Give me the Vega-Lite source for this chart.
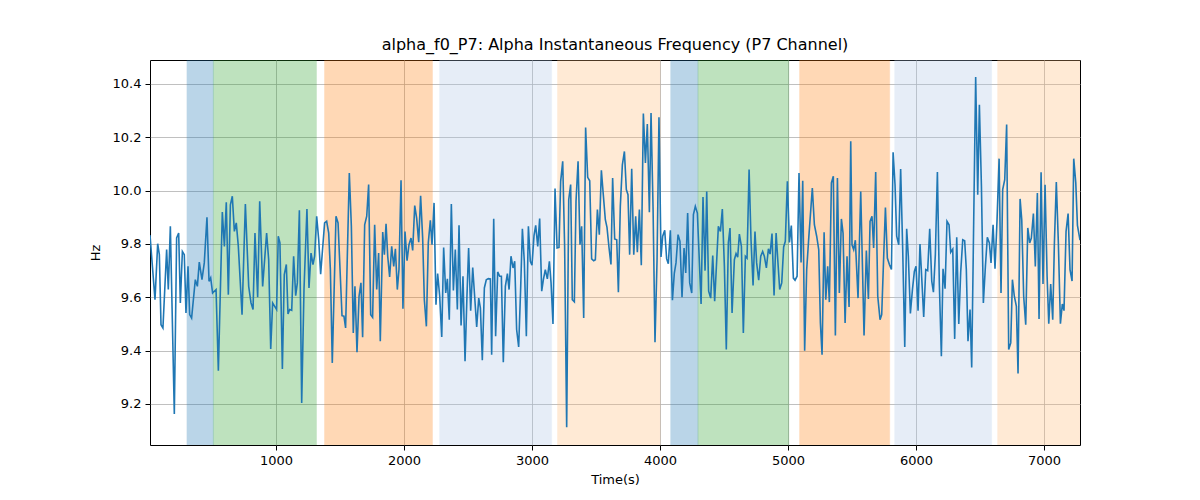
{
  "$schema": "https://vega.github.io/schema/vega-lite/v6.json",
  "width": 930,
  "height": 385,
  "autosize": {"type": "none"},
  "padding": {"left": 150, "top": 60, "right": 120, "bottom": 55},
  "background": "white",
  "config": {
    "font": "DejaVu Sans",
    "view": {"stroke": "black", "strokeWidth": 1},
    "axis": {
      "labelFont": "DejaVu Sans", "labelFontSize": 13, "labelColor": "black",
      "titleFont": "DejaVu Sans", "titleFontSize": 13, "titleFontWeight": "normal", "titleColor": "black",
      "tickColor": "black", "tickSize": 5, "tickWidth": 1, "labelPadding": 4,
      "domain": false, "grid": true, "gridColor": "#b0b0b0", "gridWidth": 0.8, "zindex": 1
    }
  },
  "title": {"text": "alpha_f0_P7: Alpha Instantaneous Frequency (P7 Channel)", "font": "DejaVu Sans", "fontSize": 16, "fontWeight": "normal", "color": "black", "offset": 7},
  "datasets": {
    "bands": [
      {"start": 305, "end": 511, "kind": "A"},
      {"start": 511, "end": 1316, "kind": "B"},
      {"start": 1380, "end": 2222, "kind": "C"},
      {"start": 2279, "end": 3153, "kind": "D"},
      {"start": 3200, "end": 4001, "kind": "E"},
      {"start": 4084, "end": 4297, "kind": "A"},
      {"start": 4297, "end": 5006, "kind": "B"},
      {"start": 5091, "end": 5794, "kind": "C"},
      {"start": 5834, "end": 6590, "kind": "D"},
      {"start": 6638, "end": 7281, "kind": "E"}
    ],
    "series": [
      {"t":16,"hz":9.833},{"t":55,"hz":9.591},{"t":76,"hz":9.801},{"t":89,"hz":9.760},{"t":102,"hz":9.497},{"t":117,"hz":9.485},{"t":146,"hz":9.779},{"t":159,"hz":9.629},{"t":175,"hz":9.866},{"t":206,"hz":9.162},{"t":224,"hz":9.823},{"t":240,"hz":9.841},{"t":253,"hz":9.579},{"t":269,"hz":9.772},{"t":284,"hz":9.760},{"t":297,"hz":9.541},{"t":313,"hz":9.716},{"t":326,"hz":9.535},{"t":341,"hz":9.522},{"t":370,"hz":9.666},{"t":386,"hz":9.641},{"t":401,"hz":9.732},{"t":422,"hz":9.666},{"t":440,"hz":9.729},{"t":461,"hz":9.900},{"t":477,"hz":9.660},{"t":490,"hz":9.673},{"t":505,"hz":9.616},{"t":532,"hz":9.629},{"t":550,"hz":9.325},{"t":581,"hz":9.920},{"t":597,"hz":9.791},{"t":612,"hz":9.956},{"t":628,"hz":9.610},{"t":644,"hz":9.947},{"t":659,"hz":9.979},{"t":675,"hz":9.847},{"t":690,"hz":9.879},{"t":706,"hz":9.791},{"t":735,"hz":9.535},{"t":761,"hz":9.950},{"t":787,"hz":9.641},{"t":805,"hz":9.579},{"t":821,"hz":9.554},{"t":836,"hz":9.841},{"t":857,"hz":9.600},{"t":873,"hz":9.960},{"t":896,"hz":9.641},
      {"t":927,"hz":9.841},{"t":943,"hz":9.741},{"t":959,"hz":9.406},{"t":974,"hz":9.579},{"t":990,"hz":9.566},{"t":1005,"hz":9.554},{"t":1018,"hz":9.829},{"t":1031,"hz":9.804},{"t":1050,"hz":9.331},{"t":1065,"hz":9.685},{"t":1081,"hz":9.723},{"t":1094,"hz":9.537},{"t":1107,"hz":9.554},{"t":1123,"hz":9.551},{"t":1138,"hz":9.754},{"t":1154,"hz":9.606},{"t":1167,"hz":9.654},{"t":1183,"hz":9.926},{"t":1201,"hz":9.204},{"t":1219,"hz":9.629},{"t":1242,"hz":9.931},{"t":1258,"hz":9.635},{"t":1274,"hz":9.766},{"t":1289,"hz":9.723},{"t":1302,"hz":9.754},{"t":1318,"hz":9.904},{"t":1334,"hz":9.816},{"t":1349,"hz":9.687},{"t":1380,"hz":9.879},{"t":1396,"hz":9.885},{"t":1412,"hz":9.841},{"t":1425,"hz":9.704},{"t":1440,"hz":9.354},{"t":1469,"hz":9.904},{"t":1485,"hz":9.879},{"t":1516,"hz":9.531},{"t":1531,"hz":9.529},{"t":1544,"hz":9.485},{"t":1573,"hz":10.066},{"t":1589,"hz":9.866},{"t":1604,"hz":9.466},{"t":1617,"hz":9.641},{"t":1633,"hz":9.394},{"t":1649,"hz":9.604},{"t":1664,"hz":9.654},{"t":1677,"hz":9.450},{"t":1693,"hz":9.872},{"t":1709,"hz":9.904},{"t":1724,"hz":10.023},{"t":1740,"hz":9.535},{"t":1755,"hz":9.525},{"t":1771,"hz":9.872},{"t":1787,"hz":9.629},{"t":1802,"hz":9.766},{"t":1815,"hz":9.435},
      {"t":1834,"hz":9.845},{"t":1847,"hz":9.760},{"t":1860,"hz":9.876},{"t":1873,"hz":9.754},{"t":1888,"hz":9.676},{"t":1904,"hz":9.791},{"t":1920,"hz":9.716},{"t":1933,"hz":9.782},{"t":1948,"hz":9.629},{"t":1961,"hz":9.704},{"t":1977,"hz":10.039},{"t":1992,"hz":9.557},{"t":2008,"hz":9.847},{"t":2024,"hz":9.737},{"t":2039,"hz":9.797},{"t":2055,"hz":9.822},{"t":2068,"hz":9.776},{"t":2084,"hz":9.944},{"t":2099,"hz":9.897},{"t":2115,"hz":9.807},{"t":2130,"hz":9.981},{"t":2146,"hz":9.822},{"t":2159,"hz":9.591},{"t":2175,"hz":9.491},{"t":2190,"hz":9.804},{"t":2206,"hz":9.889},{"t":2219,"hz":9.797},{"t":2235,"hz":9.954},{"t":2250,"hz":9.572},{"t":2263,"hz":9.689},{"t":2279,"hz":9.604},{"t":2295,"hz":9.451},{"t":2310,"hz":9.787},{"t":2326,"hz":9.616},{"t":2339,"hz":9.669},{"t":2354,"hz":9.516},{"t":2370,"hz":9.950},{"t":2386,"hz":9.626},{"t":2401,"hz":9.779},{"t":2417,"hz":9.554},{"t":2430,"hz":9.870},{"t":2446,"hz":9.494},{"t":2461,"hz":9.679},{"t":2477,"hz":9.360},{"t":2492,"hz":9.604},{"t":2505,"hz":9.785},{"t":2521,"hz":9.550},{"t":2537,"hz":9.712},{"t":2552,"hz":9.604},{"t":2568,"hz":9.489},{"t":2584,"hz":9.597},{"t":2597,"hz":9.560},{"t":2612,"hz":9.364},{"t":2628,"hz":9.635},{"t":2643,"hz":9.666},{"t":2659,"hz":9.670},{"t":2675,"hz":9.669},{"t":2685,"hz":9.385},{"t":2701,"hz":9.895},{"t":2716,"hz":9.454},{"t":2732,"hz":9.695},{"t":2748,"hz":9.679},
      {"t":2761,"hz":9.679},{"t":2776,"hz":9.356},{"t":2792,"hz":9.641},{"t":2808,"hz":9.689},{"t":2821,"hz":9.629},{"t":2836,"hz":9.754},{"t":2852,"hz":9.710},{"t":2865,"hz":9.735},{"t":2880,"hz":9.479},{"t":2896,"hz":9.414},{"t":2912,"hz":9.641},{"t":2925,"hz":9.857},{"t":2940,"hz":9.735},{"t":2956,"hz":9.454},{"t":2972,"hz":9.866},{"t":2987,"hz":9.735},{"t":3000,"hz":9.720},{"t":3016,"hz":9.832},{"t":3029,"hz":9.870},{"t":3045,"hz":9.791},{"t":3060,"hz":9.895},{"t":3076,"hz":9.623},{"t":3089,"hz":9.666},{"t":3104,"hz":9.704},{"t":3120,"hz":9.669},{"t":3136,"hz":9.735},{"t":3149,"hz":9.654},{"t":3164,"hz":9.500},{"t":3180,"hz":10.008},{"t":3196,"hz":9.785},{"t":3211,"hz":9.787},{"t":3224,"hz":10.035},{"t":3240,"hz":10.110},{"t":3255,"hz":9.791},{"t":3271,"hz":9.113},{"t":3287,"hz":9.966},{"t":3302,"hz":10.023},{"t":3315,"hz":9.591},{"t":3331,"hz":9.583},{"t":3344,"hz":9.960},{"t":3360,"hz":10.110},{"t":3375,"hz":9.797},{"t":3388,"hz":9.866},{"t":3404,"hz":9.522},{"t":3419,"hz":10.237},{"t":3435,"hz":10.050},{"t":3451,"hz":10.037},{"t":3466,"hz":9.744},{"t":3482,"hz":9.737},{"t":3495,"hz":9.741},{"t":3511,"hz":9.929},{"t":3526,"hz":9.835},{"t":3542,"hz":10.076},{"t":3557,"hz":9.985},{"t":3573,"hz":9.891},{"t":3586,"hz":9.862},{"t":3602,"hz":9.785},{"t":3617,"hz":9.723},{"t":3630,"hz":10.047},{"t":3646,"hz":9.819},{"t":3662,"hz":9.816},
      {"t":3675,"hz":9.619},{"t":3690,"hz":9.941},{"t":3706,"hz":10.097},{"t":3722,"hz":10.147},{"t":3737,"hz":10.004},{"t":3750,"hz":9.985},{"t":3763,"hz":9.760},{"t":3779,"hz":10.082},{"t":3795,"hz":9.760},{"t":3810,"hz":9.904},{"t":3823,"hz":9.769},{"t":3839,"hz":9.929},{"t":3854,"hz":9.720},{"t":3870,"hz":10.289},{"t":3886,"hz":10.104},{"t":3901,"hz":10.250},{"t":3917,"hz":9.919},{"t":3930,"hz":10.291},{"t":3946,"hz":9.929},{"t":3961,"hz":9.431},{"t":3977,"hz":9.741},{"t":3992,"hz":10.275},{"t":4008,"hz":9.751},{"t":4021,"hz":9.829},{"t":4037,"hz":9.851},{"t":4052,"hz":9.744},{"t":4065,"hz":9.726},{"t":4081,"hz":9.851},{"t":4097,"hz":9.589},{"t":4112,"hz":9.691},{"t":4125,"hz":9.729},{"t":4141,"hz":9.835},{"t":4156,"hz":9.810},{"t":4172,"hz":9.600},{"t":4188,"hz":9.785},{"t":4201,"hz":9.691},{"t":4216,"hz":9.916},{"t":4232,"hz":9.654},{"t":4248,"hz":9.616},{"t":4261,"hz":9.910},{"t":4276,"hz":9.941},{"t":4292,"hz":9.916},{"t":4308,"hz":9.729},{"t":4321,"hz":9.575},{"t":4336,"hz":9.976},{"t":4352,"hz":9.700},{"t":4365,"hz":9.997},{"t":4380,"hz":9.623},{"t":4396,"hz":9.597},{"t":4412,"hz":9.757},{"t":4427,"hz":9.585},{"t":4440,"hz":9.710},{"t":4456,"hz":9.866},{"t":4472,"hz":9.847},{"t":4487,"hz":9.931},{"t":4503,"hz":9.716},{"t":4518,"hz":9.404},{"t":4534,"hz":9.804},{"t":4547,"hz":9.860},{"t":4563,"hz":9.541},
      {"t":4581,"hz":9.741},{"t":4594,"hz":9.764},{"t":4607,"hz":9.750},{"t":4620,"hz":9.837},{"t":4636,"hz":9.791},{"t":4651,"hz":9.466},{"t":4667,"hz":9.754},{"t":4680,"hz":9.747},{"t":4696,"hz":10.079},{"t":4711,"hz":9.816},{"t":4727,"hz":9.644},{"t":4742,"hz":9.847},{"t":4755,"hz":9.729},{"t":4771,"hz":9.664},{"t":4787,"hz":9.754},{"t":4802,"hz":9.772},{"t":4815,"hz":9.754},{"t":4831,"hz":9.710},{"t":4847,"hz":9.782},{"t":4860,"hz":9.762},{"t":4875,"hz":9.839},{"t":4891,"hz":9.607},{"t":4907,"hz":9.841},{"t":4920,"hz":9.741},{"t":4935,"hz":9.629},{"t":4951,"hz":9.654},{"t":4966,"hz":9.789},{"t":4979,"hz":9.810},{"t":4995,"hz":10.035},{"t":5011,"hz":9.806},{"t":5026,"hz":9.869},{"t":5042,"hz":9.672},{"t":5055,"hz":9.664},{"t":5071,"hz":9.679},{"t":5086,"hz":10.066},{"t":5102,"hz":9.731},{"t":5115,"hz":10.037},{"t":5130,"hz":9.400},{"t":5146,"hz":9.704},{"t":5162,"hz":9.822},{"t":5190,"hz":10.010},{"t":5206,"hz":9.872},{"t":5224,"hz":9.829},{"t":5240,"hz":9.779},{"t":5253,"hz":9.504},{"t":5266,"hz":9.385},{"t":5282,"hz":9.844},{"t":5295,"hz":9.591},{"t":5310,"hz":9.716},{"t":5323,"hz":9.582},{"t":5339,"hz":10.029},{"t":5354,"hz":10.054},{"t":5370,"hz":9.457},{"t":5386,"hz":10.047},{"t":5401,"hz":9.616},{"t":5417,"hz":9.894},{"t":5430,"hz":9.841},{"t":5446,"hz":9.504},{"t":5461,"hz":9.754},{"t":5477,"hz":9.564},{"t":5490,"hz":10.185},
      {"t":5500,"hz":9.797},{"t":5513,"hz":9.779},{"t":5526,"hz":9.814},{"t":5547,"hz":9.597},{"t":5568,"hz":9.997},{"t":5594,"hz":9.457},{"t":5612,"hz":9.775},{"t":5628,"hz":9.594},{"t":5641,"hz":9.885},{"t":5656,"hz":9.904},{"t":5669,"hz":9.785},{"t":5685,"hz":10.070},{"t":5701,"hz":9.604},{"t":5719,"hz":9.516},{"t":5732,"hz":9.535},{"t":5748,"hz":9.760},{"t":5761,"hz":9.937},{"t":5776,"hz":9.747},{"t":5792,"hz":9.723},{"t":5808,"hz":9.704},{"t":5821,"hz":10.144},{"t":5836,"hz":10.023},{"t":5849,"hz":9.829},{"t":5865,"hz":9.797},{"t":5880,"hz":10.081},{"t":5896,"hz":9.779},{"t":5912,"hz":9.414},{"t":5927,"hz":9.857},{"t":5940,"hz":9.754},{"t":5956,"hz":9.539},{"t":5972,"hz":9.629},{"t":5987,"hz":9.697},{"t":6000,"hz":9.716},{"t":6016,"hz":9.550},{"t":6031,"hz":9.800},{"t":6044,"hz":9.679},{"t":6060,"hz":9.526},{"t":6076,"hz":9.704},{"t":6091,"hz":9.700},{"t":6107,"hz":9.857},{"t":6123,"hz":9.660},{"t":6136,"hz":9.619},{"t":6151,"hz":9.760},{"t":6167,"hz":10.070},{"t":6182,"hz":9.654},{"t":6198,"hz":9.379},{"t":6211,"hz":9.707},{"t":6227,"hz":9.632},{"t":6242,"hz":9.885},{"t":6258,"hz":9.872},{"t":6271,"hz":9.769},{"t":6287,"hz":9.781},{"t":6302,"hz":9.444},{"t":6318,"hz":9.825},{"t":6334,"hz":9.500},{"t":6349,"hz":9.694},{"t":6365,"hz":9.816},{"t":6380,"hz":9.812},{"t":6393,"hz":9.704},{"t":6406,"hz":9.435},
      {"t":6422,"hz":9.554},{"t":6435,"hz":9.337},{"t":6466,"hz":10.426},{"t":6482,"hz":9.985},{"t":6495,"hz":10.322},{"t":6511,"hz":10.016},{"t":6526,"hz":9.579},{"t":6542,"hz":9.716},{"t":6557,"hz":9.825},{"t":6573,"hz":9.804},{"t":6586,"hz":9.729},{"t":6602,"hz":9.872},{"t":6617,"hz":9.707},{"t":6633,"hz":9.891},{"t":6649,"hz":10.120},{"t":6664,"hz":9.616},{"t":6677,"hz":10.004},{"t":6693,"hz":10.041},{"t":6708,"hz":10.248},{"t":6724,"hz":9.404},{"t":6740,"hz":9.429},{"t":6753,"hz":9.666},{"t":6768,"hz":9.604},{"t":6784,"hz":9.566},{"t":6797,"hz":9.314},{"t":6813,"hz":9.969},{"t":6826,"hz":9.891},{"t":6841,"hz":9.604},{"t":6857,"hz":9.497},{"t":6873,"hz":9.860},{"t":6888,"hz":9.804},{"t":6901,"hz":9.822},{"t":6917,"hz":9.914},{"t":6932,"hz":9.716},{"t":6948,"hz":9.991},{"t":6961,"hz":9.519},{"t":6977,"hz":10.069},{"t":6992,"hz":9.650},{"t":7008,"hz":10.022},{"t":7024,"hz":9.679},{"t":7037,"hz":9.501},{"t":7052,"hz":9.650},{"t":7068,"hz":9.516},{"t":7081,"hz":9.804},{"t":7096,"hz":10.032},{"t":7112,"hz":9.804},{"t":7128,"hz":9.501},{"t":7143,"hz":9.575},{"t":7156,"hz":9.550},{"t":7172,"hz":9.847},{"t":7188,"hz":9.914},{"t":7203,"hz":9.704},{"t":7219,"hz":9.661},{"t":7232,"hz":10.120},{"t":7248,"hz":10.029},{"t":7261,"hz":9.870},{"t":7281,"hz":9.814}
    ]
  },
  "layer": [
    {
      "data": {"name": "bands"},
      "mark": {"type": "rect", "opacity": 0.3, "strokeWidth": 0.6, "clip": true},
      "encoding": {
        "x": {"field": "start", "type": "quantitative", "scale": {"domain": [16, 7281], "nice": false, "zero": false},
              "axis": {"title": "Time(s)", "values": [1000, 2000, 3000, 4000, 5000, 6000, 7000], "format": "d", "titlePadding": 6}},
        "x2": {"field": "end"},
        "color": {"field": "kind", "type": "nominal", "legend": null,
                  "scale": {"domain": ["A", "B", "C", "D", "E"], "range": ["#1f77b4", "#2ca02c", "#ff7f0e", "#aec7e8", "#ffbb78"]}},
        "stroke": {"field": "kind", "type": "nominal", "legend": null,
                  "scale": {"domain": ["A", "B", "C", "D", "E"], "range": ["#1f77b4", "#2ca02c", "#ff7f0e", "#aec7e8", "#ffbb78"]}}
      }
    },
    {
      "data": {"name": "series"},
      "mark": {"type": "line", "color": "#1f77b4", "strokeWidth": 1.6, "clip": true},
      "encoding": {
        "x": {"field": "t", "type": "quantitative"},
        "y": {"field": "hz", "type": "quantitative", "scale": {"domain": [9.046, 10.49], "nice": false, "zero": false},
              "axis": {"title": "Hz", "values": [9.2, 9.4, 9.6, 9.8, 10.0, 10.2, 10.4], "format": ".1f", "titlePadding": 10}}
      }
    }
  ]
}
